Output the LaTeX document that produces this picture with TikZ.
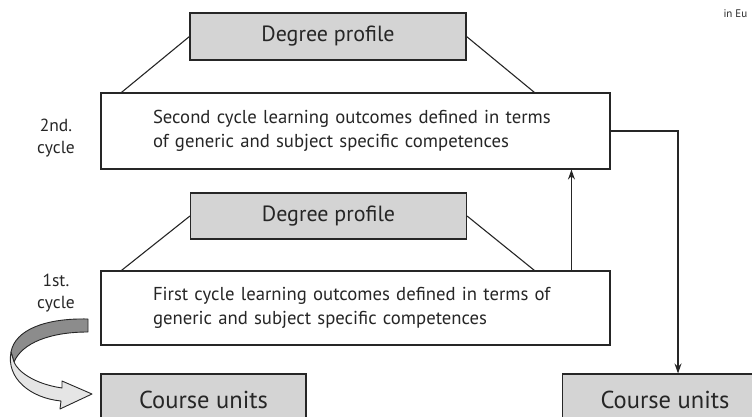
\documentclass[tikz,border=0pt]{standalone}
\usepackage{fontspec}
\setmainfont{PT Sans}
\usetikzlibrary{arrows.meta,calc,positioning}
\tikzset{
    %Define standard arrow tip
    >={Stealth[length=10pt,width=7pt]},
    %Define style for boxes
    profile/.style={
           rectangle,
           draw=black!85, line width=1.1pt,
           fill=black!17,
           minimum width=276pt,
           minimum height=47pt,
           font=\fontsize{22}{24}\selectfont,
           text=black!85,
           text centered},
    outcome/.style={
           rectangle,
           draw=black!85, line width=1.1pt,
           fill=white,
           text width=405pt,
           inner xsep=52pt,
           minimum height=76pt,
           font=\fontsize{18.7}{24}\selectfont,
           text=black!85,
           align=left},
    units/.style={
           rectangle,
           draw=black!85, line width=1.1pt,
           fill=black!17,
           minimum width=205pt,
           minimum height=52pt,
           font=\fontsize{24.5}{26}\selectfont,
           text=black!85,
           text centered},
    cyclelabel/.style={
           align=center,
           font=\fontsize{17.5}{22}\selectfont,
           text=black!85},
    % Define line style
    link/.style={
           draw=black!85,
           line width=1.1pt},
    ribbon/.style={
           draw=black!85,
           line width=0.9pt,
           line join=round}
}
\begin{document}
\begin{tikzpicture}[x=1pt,y=-1pt]
\useasboundingbox (0,0) rectangle (752,417);
 %nodes
\node[outcome](second) at (355.5,131){Second cycle learning outcomes defined in terms\\of generic and subject specific competences};
\node[profile](degree2) at (328,36.5){Degree profile};
\node[outcome, minimum height=74pt](first) at (355.5,308){First cycle learning outcomes defined in terms of\\generic and subject specific competences};
\node[profile, minimum height=46pt](degree1) at (328.5,216){Degree profile};
\node[units](unitsL) at (203.5,400){Course units};
\node[units](unitsR) at (665,400){Course units};
\node[cyclelabel](label2) at (56,138){2nd.\\cycle};
\node[cyclelabel](label1) at (56,293){1st.\\cycle};
\node[anchor=west, font=\fontsize{11}{13}\selectfont, text=black!85](runhead) at (720,14){in Eu};
 %connectors
\draw[link] (degree2.west) -- ($(second.north west)+(21,0)$);
\draw[link] (degree2.east) -- ($(second.north west)+(434,0)$);
\draw[link] (degree1.west) -- ($(first.north west)+(21,0)$);
\draw[link] (degree1.east) -- ($(first.north west)+(434,0)$);
\draw[link,->] ($(first.north west)+(471,0)$) -- ($(second.south west)+(471,0)$);
\draw[link,->] (second.east) -| ($(unitsR.north)+(13,0)$);
 %curved arrow
\filldraw[ribbon, fill=black!45] (88,319) .. controls (45,318) and (15,330) .. (11,352)
    -- (14,362) .. controls (22,343) and (50,332) .. (88,332) -- cycle;
\filldraw[ribbon, fill=black!10] (11,352) .. controls (6,378) and (30,398) .. (61,401)
    -- (60,409) -- (92,394) -- (62,381) -- (62,388)
    .. controls (35,384) and (18,372) .. (14,362) -- cycle;
\end{tikzpicture}
\end{document}
